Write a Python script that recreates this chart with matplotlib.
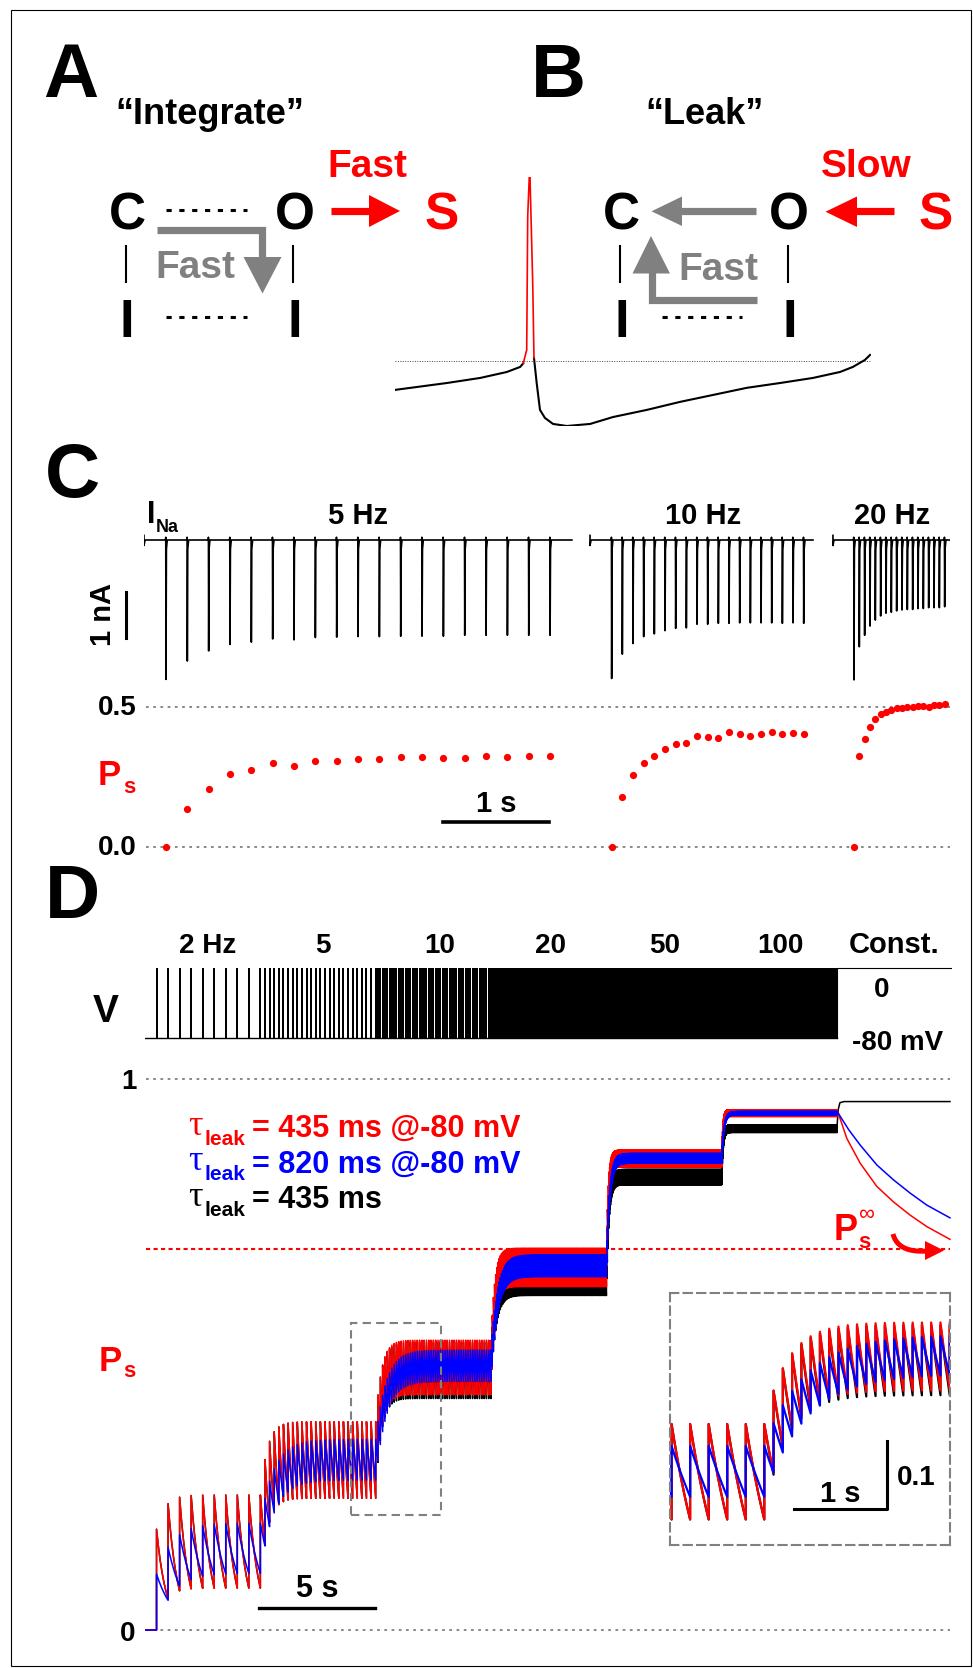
import numpy as np
import matplotlib
matplotlib.use('Agg')
import matplotlib.pyplot as plt
from matplotlib.patches import Polygon, Rectangle

W, H = 973, 1668
RED = '#ff0000'
BLUE = '#0000ff'
GRAY = '#808080'
plt.rcParams['font.family'] = ['Liberation Sans', 'DejaVu Sans']
plt.rcParams['font.weight'] = 'bold'

# ---------------- data ----------------
# B: action potential (ms, mV)
ap_pre_t = [0, 10.9, 17.9, 23.5, 26.3, 26.95]
ap_pre_v = [-62.6, -59.6, -57.4, -54.8, -52.6, -51.0]
ap_spike_t = [26.95, 27.67, 27.88, 28.21, 28.36, 28.93, 29.2]
ap_spike_v = [-51.0, -45.2, 12.8, 30.2, 30.2, -16.1, -48.7]
ap_post_t = [29.2, 29.77, 30.46, 31.5, 33.2, 36.1, 41.0, 45.8, 52.9, 59.9,
             66.8, 73.9, 80.9, 87.8, 93.5, 96.2, 98.7, 99.8]
ap_post_v = [-48.7, -59.7, -71.3, -74.8, -77.4, -78.3, -77.4, -74.4, -71.3, -67.8,
             -64.8, -61.7, -59.6, -57.4, -54.8, -52.6, -49.6, -47.4]
ap_threshold = -50

# C: I_Na trains (s, nA) and P_s per pulse
c_freqs = [5, 10, 20]
c_labels = ['5 Hz', '10 Hz', '20 Hz']
c_seg_start = [0.0, 4.18, 6.457]
c_seg_end = [4.01, 6.27, 7.554]
c_first_spike = [0.206, 4.383, 6.654]
ina_5 = [3.03, 2.63, 2.41, 2.27, 2.22, 2.15, 2.17, 2.12, 2.11, 2.10,
         2.10, 2.09, 2.09, 2.09, 2.07, 2.07, 2.07, 2.07, 2.07]
ina_10 = [3.01, 2.48, 2.25, 2.10, 2.04, 1.97, 1.92, 1.91, 1.83, 1.83,
          1.81, 1.81, 1.80, 1.80, 1.80, 1.80, 1.81, 1.80, 1.81]
ina_20 = [3.04, 2.32, 2.07, 1.87, 1.74, 1.65, 1.59, 1.57, 1.54, 1.52,
          1.51, 1.51, 1.49, 1.49, 1.47, 1.47, 1.47, 1.45]
ps_5 = [0, 0.133, 0.206, 0.258, 0.274, 0.298, 0.290, 0.306, 0.307, 0.312,
        0.313, 0.319, 0.320, 0.317, 0.317, 0.323, 0.321, 0.325, 0.325]
ps_10 = [0, 0.176, 0.256, 0.300, 0.325, 0.349, 0.367, 0.369, 0.395, 0.393,
         0.389, 0.411, 0.404, 0.395, 0.402, 0.411, 0.401, 0.407, 0.402]
ps_20 = [0, 0.324, 0.386, 0.429, 0.458, 0.473, 0.482, 0.488, 0.494, 0.496,
         0.500, 0.498, 0.502, 0.502, 0.500, 0.505, 0.506, 0.510]

# D: stimulation protocol and simulated P_s
d_freqs = [2, 5, 10, 20, 50, 100]
d_labels = ['2 Hz', '5', '10', '20', '50', '100', 'Const.']
d_seg_dur = 5.0
const_start, const_end = 30.0, 35.0
v_hold, v_step = -80, 0
# steady-state peak / trough of the sawtooth in each train
red_hi = [0.245, 0.378, 0.526, 0.693, 0.871, 0.944]
red_lo = [0.076, 0.239, 0.427, 0.623, 0.840, 0.932]
blue_hi = [0.194, 0.346, 0.508, 0.681, 0.865, 0.941]
blue_lo = [0.103, 0.272, 0.451, 0.641, 0.847, 0.935]
black_hi = [0.245, 0.378, 0.522, 0.660, 0.836, 0.917]
black_lo = [0.076, 0.239, 0.420, 0.607, 0.808, 0.903]
# constant depolarisation
red_const_t = [30.0, 30.42, 31.0, 31.72, 32.44, 33.16, 33.89, 34.89]
red_const_p = [0.938, 0.892, 0.847, 0.805, 0.777, 0.753, 0.732, 0.709]
blue_const_t = [30.0, 30.5, 31.0, 31.72, 32.44, 33.16, 33.89, 34.89]
blue_const_p = [0.938, 0.908, 0.880, 0.844, 0.817, 0.793, 0.771, 0.748]
black_const_t = [30.0, 30.05, 30.12, 30.3, 34.89]
black_const_p = [0.917, 0.945, 0.957, 0.959, 0.959]
ps_inf = 0.691
legend_txt = ['= 435 ms @-80 mV', '= 820 ms @-80 mV', '= 435 ms']
zoom_box = (8.93, 0.208, 3.89, 0.35)   # t0, p0, width, height
inset_xlim = (8.983, 12.003)
inset_ylim = (0.2018, 0.5688)


def pulse_times():
    out = []
    for i, f in enumerate(d_freqs):
        for k in range(1, int(d_seg_dur * f) + 1):
            out.append((i * d_seg_dur + k / f, i))
    return out


def sawtooth(hi, lo, const_t, const_p):
    pulses = pulse_times()
    ts, ps = [0.0, pulses[0][0]], [0.0, 0.0]
    p = 0.0
    t_prev = None
    for tk, i in pulses:
        a = (hi[i] - lo[i]) / (1 - lo[i])
        lam = -np.log(lo[i] / hi[i]) * d_freqs[i]
        if t_prev is not None:
            n = max(2, int((tk - t_prev) * 40))
            tt = np.linspace(t_prev, tk, n)[1:]
            pp = p * np.exp(-lam * (tt - t_prev))
            ts.extend(tt)
            ps.extend(pp)
            p = pp[-1]
        p = p + a * (1 - p)
        ts.append(tk)
        ps.append(p)
        t_prev = tk
    ts.extend(const_t[1:])
    ps.extend(const_p[1:])
    return np.array(ts), np.array(ps)


def ina_trace(t0, t1, first, f, amps):
    t = [t0, t0, t0 + 0.01]
    y = [0.1, -0.12, 0]
    for k, A in enumerate(amps):
        ts = first + k / f
        t += [ts - 0.004, ts - 0.002, ts, ts + 0.004, ts + 0.012]
        y += [0, 0.06, -A, -0.2, 0]
    t.append(t1)
    y.append(0)
    return t, y


# ---------------- figure ----------------
fig = plt.figure(figsize=(W / 100, H / 100), dpi=100)
ax0 = fig.add_axes([0, 0, 1, 1])
ax0.set_xlim(0, W)
ax0.set_ylim(H, 0)
ax0.axis('off')

# frame
ax0.add_patch(Rectangle((11, 10), 960, 1656, fill=False, ec='k', lw=0.8))


def txt(x, y, s, size, color='k', ha='center', **kw):
    ax0.text(x, y, s, fontsize=size, color=color, ha=ha, va='baseline', **kw)


for s, x, y in [('A', 71, 97), ('B', 558.5, 97), ('C', 73, 497), ('D', 73, 918)]:
    txt(x, y, s, 55)

# ---- A / B schemes
txt(210, 124, '\u201cIntegrate\u201d', 26)
txt(704.5, 124, '\u201cLeak\u201d', 26)
txt(367, 177, 'Fast', 28, RED)
txt(866, 177, 'Slow', 28, RED)
for x, s, c in [(127.5, 'C', 'k'), (294.5, 'O', 'k'), (442, 'S', RED),
                (621, 'C', 'k'), (789, 'O', 'k'), (936, 'S', RED)]:
    txt(x, 229.5, s, 37, c)
for x in [127, 295, 622, 790]:
    txt(x, 337, 'I', 38)
for x in [126, 293, 620, 787.5]:
    ax0.plot([x, x], [246, 282], color='k', lw=1.5)
dots = dict(color='k', lw=2.2, linestyle=(0, (1.7, 2.5)))
ax0.plot([166, 247], [210, 210], **dots)
ax0.plot([166, 247], [317, 317], **dots)
ax0.plot([662, 742], [317, 317], **dots)
txt(195, 278, 'Fast', 28, GRAY)
txt(718, 280, 'Fast', 28, GRAY)

shaft = dict(lw=5.2, solid_capstyle='butt', solid_joinstyle='miter')
# A: gray L arrow
ax0.plot([157, 262, 262], [230, 230, 258], color=GRAY, **shaft)
ax0.add_patch(Polygon([(243.5, 257), (281.5, 257), (262.5, 293.5)], color=GRAY, lw=0))
# A: red arrow O -> S
ax0.plot([331, 370], [211, 211], color=RED, **shaft)
ax0.add_patch(Polygon([(369, 195), (369, 227), (400, 211)], color=RED, lw=0))
# B: gray arrow O -> C
ax0.plot([756, 681], [211, 211], color=GRAY, **shaft)
ax0.add_patch(Polygon([(682, 196.5), (682, 226), (651.5, 211.3)], color=GRAY, lw=0))
# B: gray L arrow
ax0.plot([756.5, 651.5, 651.5], [300, 300, 272], color=GRAY, **shaft)
ax0.add_patch(Polygon([(632.5, 273.5), (670, 273.5), (651, 236)], color=GRAY, lw=0))
# B: red arrow S -> O
ax0.plot([894, 856], [211, 211], color=RED, **shaft)
ax0.add_patch(Polygon([(857, 196.5), (857, 227), (825.5, 211.7)], color=RED, lw=0))


def px_axes(x0, x1, ybot, ytop, xlim, ylim):
    ax = fig.add_axes([x0 / W, 1 - ybot / H, (x1 - x0) / W, (ybot - ytop) / H])
    ax.set_xlim(xlim)
    ax.set_ylim(ylim)
    ax.axis('off')
    ax.patch.set_alpha(0)
    return ax


# ---- B: action potential
ax_ap = px_axes(395, 871, 426, 177, (0, 100), (-78.3, 30))
ax_ap.axhline(ap_threshold, color='#444444', lw=0.7, linestyle=(0, (1, 1.5)))
ax_ap.plot(ap_pre_t, ap_pre_v, color='k', lw=1.5)
ax_ap.plot(ap_post_t, ap_post_v, color='k', lw=1.5)
ax_ap.plot(ap_spike_t, ap_spike_v, color=RED, lw=1.2)

# ---- C: I_Na
ax_i = px_axes(144, 950, 700, 490, (0, 7.554), (-3.478, 1.087))
for t0, t1, fs, f, amps in zip(c_seg_start, c_seg_end, c_first_spike, c_freqs,
                               [ina_5, ina_10, ina_20]):
    tt, yy = ina_trace(t0, t1, fs, f, amps)
    ax_i.plot(tt, yy, color='k', lw=1.2)
ax_i.plot([-0.169, -0.169], [-1.13, -2.13], color='k', lw=2.2, clip_on=False)
txt(151, 523, 'I', 22)
txt(156, 532, 'Na', 13, ha='left')
for s, x in zip(c_labels, [358.5, 703, 892]):
    txt(x, 523.5, s, 21)
ax0.text(103, 614, '1 nA', fontsize=21, rotation=90, ha='center', va='center')

ax_p = px_axes(144, 950, 860, 695, (0, 7.554), (-0.0475, 0.542))
gdot = dict(color=GRAY, lw=1.3, linestyle=(0, (1.5, 2.5)))
ax_p.hlines([0.0, 0.5], 0.02, 7.554, **gdot)
for fs, f, vals in zip(c_first_spike, c_freqs, [ps_5, ps_10, ps_20]):
    tt = fs + np.arange(len(vals)) / f
    ax_p.plot(tt, vals, 'o', color=RED, ms=5.2, mew=0)
ax_p.plot([2.80, 3.80], [0.089, 0.089], color='k', lw=2.6)
txt(137, 715, '0.5', 20, ha='right')
txt(137, 855, '0.0', 20, ha='right')
txt(109.5, 785, 'P', 25, RED)
txt(123, 793, 's', 16, RED, ha='left')
txt(496.5, 812, '1 s', 21)

# ---- D: protocol
ax_v = px_axes(145, 952.5, 1045, 960, (0, 35), (-88.4, 9.2))
pt = np.array([p[0] for p in pulse_times()])
ax_v.plot([0, const_start], [v_hold, v_hold], color='k', lw=1.0)
ax_v.vlines(pt, v_hold, v_step, color='k', lw=1.1, antialiaseds=False)
ax_v.plot([const_start, const_start, const_end], [v_hold, v_step, v_step], color='k', lw=0.8)
for s, x in zip(d_labels, [208, 322.5, 440, 551, 665, 780, 894]):
    txt(x, 953, s, 21 if s == 'Const.' else 20)
txt(881.5, 997, '0', 20)
txt(897.5, 1050, '-80 mV', 20)
txt(105.5, 1022, 'V', 28)

# ---- D: P_s traces
traces = [(black_hi, black_lo, black_const_t, black_const_p, 'k'),
          (red_hi, red_lo, red_const_t, red_const_p, RED),
          (blue_hi, blue_lo, blue_const_t, blue_const_p, BLUE)]
data = [(sawtooth(h, l, ct, cp), c) for h, l, ct, cp, c in traces]

ax_d = px_axes(145, 952.5, 1650, 1070, (0, 35), (-0.0363, 1.0163))
ax_d.hlines([0.0, 1.0], 0.04, 34.87, **gdot)
ax_d.hlines(ps_inf, 0.04, 34.87, color=RED, lw=1.5, linestyle=(0, (2, 1.6)))
for (tt, pp), c in data:
    ax_d.plot(tt, pp, color=c, lw=1.1)
ax_d.add_patch(Rectangle(zoom_box[:2], zoom_box[2], zoom_box[3], fill=False,
                         ec=GRAY, lw=1.5, linestyle=(0, (4, 2.5)), zorder=5))
ax_d.plot([4.95, 9.95], [0.040, 0.040], color='k', lw=2.4)
txt(317.5, 1597, '5 s', 22)
txt(137, 1089, '1', 20, ha='right')
txt(135, 1641, '0', 20, ha='right')
txt(110.5, 1371, 'P', 25, RED)
txt(123, 1377, 's', 16, RED, ha='left')
txt(846, 1240, 'P', 26, RED)
txt(858, 1248, 's', 16, RED, ha='left')
txt(858, 1220, '\u221e', 16, RED, ha='left', fontweight='normal')
# curved arrow towards the P_s-infinity line
u = np.linspace(0, 1, 30)
bx = (1 - u) ** 2 * 893 + 2 * u * (1 - u) * 898 + u ** 2 * 927
by = (1 - u) ** 2 * 1234 + 2 * u * (1 - u) * 1253 + u ** 2 * 1251
ax0.plot(bx, by, color=RED, lw=3.6, solid_capstyle='butt')
ax0.add_patch(Polygon([(925, 1241), (925, 1260), (944, 1250.5)], color=RED, lw=0))

# legend
for k, ((_, c), s) in enumerate(zip([data[1], data[2], data[0]], legend_txt)):
    yb = 1137 + 35.5 * k
    txt(188, yb - 2, '\u03c4', 26, c, ha='left', family='Liberation Serif', fontweight='normal')
    txt(205, yb + 8, 'leak', 15, c, ha='left')
    txt(252, yb, s, 22, c, ha='left')

# ---- D: inset
ax_in = fig.add_axes([670 / W, 1 - 1545 / H, 280 / W, 252 / H])
ax_in.set_xlim(inset_xlim)
ax_in.set_ylim(inset_ylim)
ax_in.set_xticks([])
ax_in.set_yticks([])
ax_in.patch.set_alpha(0)
for sp in ax_in.spines.values():
    sp.set_color(GRAY)
    sp.set_linewidth(1.5)
    sp.set_linestyle((0, (4, 2.5)))
for (tt, pp), c in data:
    ax_in.plot(tt, pp, color=c, lw=1.6)
ax_in.plot([10.32, 11.32, 11.32], [0.2536, 0.2536, 0.3536], color='k', lw=2.2)
txt(840, 1502, '1 s', 21)
txt(897, 1485, '0.1', 20, ha='left')

fig.savefig('out.png', dpi=100)
